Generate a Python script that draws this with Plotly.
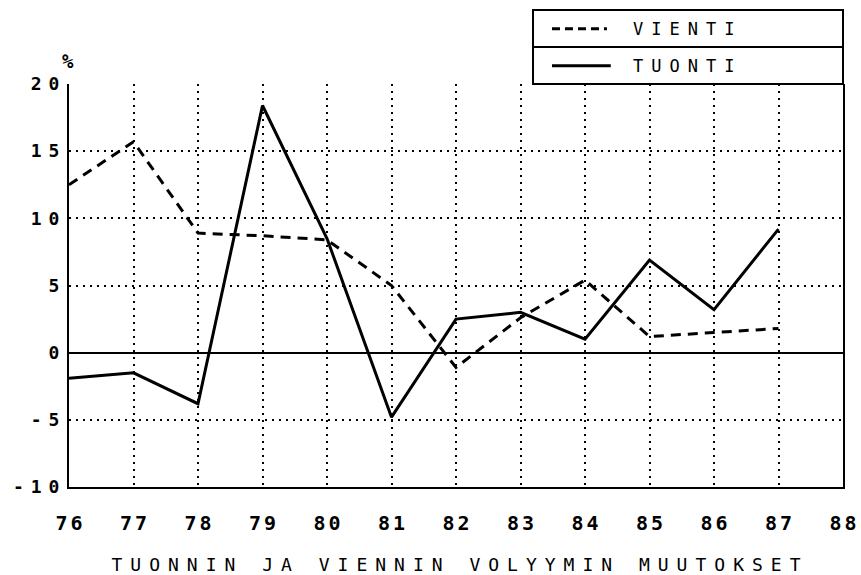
import plotly.graph_objects as go

# annual volume change, %
years = [76, 77, 78, 79, 80, 81, 82, 83, 84, 85, 86, 87]
vienti = [12.5, 15.7, 8.9, 8.7, 8.4, 5.0, -1.1, 2.6, 5.4, 1.2, 1.5, 1.8]
tuonti = [-1.9, -1.5, -3.8, 18.4, 8.5, -4.8, 2.5, 3.0, 1.0, 6.9, 3.2, 9.2]

x_ticks = list(range(76, 89))
x_ticktext = [str(v) for v in x_ticks]
y_ticks = [-10, -5, 0, 5, 10, 15, 20]
y_ticktext = ["-10", "-5", "0", "5", "10", "15", "20"]

MONO = "DejaVu Sans Mono, monospace"

fig = go.Figure()
fig.add_trace(go.Scatter(x=years, y=vienti, mode="lines", name="VIENTI",
                         line={"color": "black", "width": 3, "dash": "10px,7px"}))
fig.add_trace(go.Scatter(x=years, y=tuonti, mode="lines", name="TUONTI",
                         line={"color": "black", "width": 3}))

# boxed two-row legend drawn by hand (plotter style)
box = dict(x0=0.5995, x1=1.0, y0=1.0, y1=1.1836)
fig.add_shape(type="rect", xref="paper", yref="paper", **box,
              line={"color": "black", "width": 2}, fillcolor="white")
fig.add_shape(type="line", xref="paper", yref="paper", x0=box["x0"], x1=1.0,
              y0=1.0918, y1=1.0918, line={"color": "black", "width": 2})
fig.add_shape(type="line", xref="paper", yref="paper", x0=0.624, x1=0.695,
              y0=1.137, y1=1.137, line={"color": "black", "width": 3, "dash": "8px,5px"})
fig.add_shape(type="line", xref="paper", yref="paper", x0=0.624, x1=0.70,
              y0=1.045, y1=1.045, line={"color": "black", "width": 3})
for label, yy in [("VIENTI", 1.137), ("TUONTI", 1.045)]:
    fig.add_annotation(text=label, xref="paper", yref="paper", x=0.794, y=yy,
                       xanchor="center", yanchor="middle", showarrow=False,
                       font={"family": MONO, "size": 17, "color": "black"})

fig.add_annotation(text="%", xref="paper", yref="paper", x=-0.001, y=1.025,
                   xanchor="center", yanchor="bottom", showarrow=False,
                   font={"family": MONO, "size": 19, "color": "black", "weight": "bold"})

fig.update_xaxes(
    range=[76, 88], tickvals=x_ticks, ticktext=x_ticktext, ticks="",
    showgrid=True, gridcolor="black", gridwidth=2, griddash="2px,5px",
    showline=True, linecolor="black", linewidth=2, zeroline=False,
    automargin=False, ticklabelstandoff=17,
    tickfont={"family": MONO, "size": 20, "color": "black", "weight": "bold"},
    title={"text": "TUONNIN JA VIENNIN VOLYYMIN MUUTOKSET", "standoff": 26,
           "font": {"family": MONO, "size": 18, "color": "black"}},
)
fig.update_yaxes(
    range=[-10, 20], tickvals=y_ticks, ticktext=y_ticktext, ticks="",
    showgrid=True, gridcolor="black", gridwidth=2, griddash="2px,5px",
    showline=True, mirror=True, linecolor="black", linewidth=2,
    zeroline=True, zerolinecolor="black", zerolinewidth=2,
    automargin=False, ticklabelstandoff=4,
    tickfont={"family": MONO, "size": 18, "color": "black", "weight": "bold"},
)
fig.update_layout(
    width=861, height=575, showlegend=False,
    margin={"l": 69, "r": 18, "t": 84, "b": 88},
    plot_bgcolor="white", paper_bgcolor="white",
)

# wide plotter-style letter spacing; dx undoes the trailing gap
spacing_js = """
document.body.style.margin = '0';
function spread(sel, px, dx) {
  document.querySelectorAll(sel).forEach(t => {
    t.style.letterSpacing = px + 'px';
    t.setAttribute('dx', dx);
  });
}
spread('.xtick text', 3, 1.5);
spread('.ytick text', 7, 7);
spread('.g-xtitle text', 8, 4);
spread('.annotation-text', 8, 4);
"""
fig.write_html("out.html", post_script=spacing_js, config={"displayModeBar": False})
